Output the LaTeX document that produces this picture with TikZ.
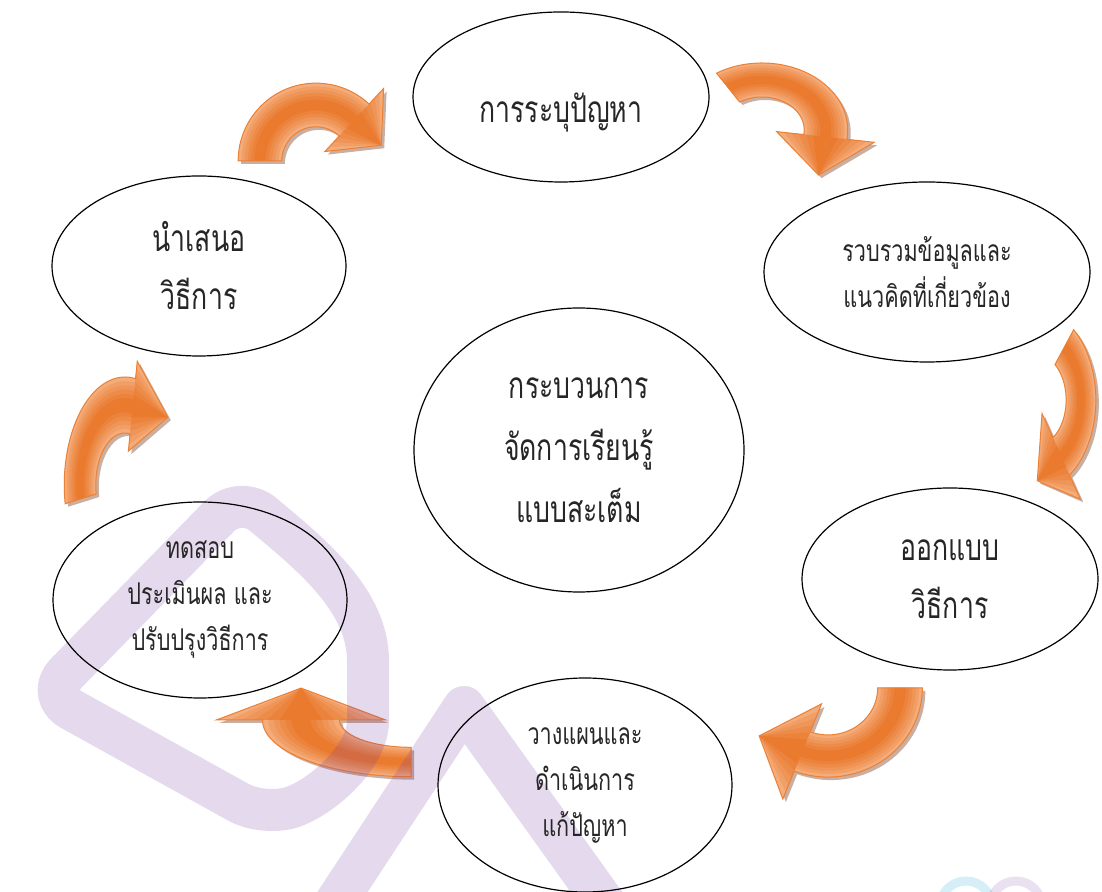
\documentclass[tikz,border=0pt]{standalone}
\usepackage{fontspec}
\newfontfamily\thaifont[Script=Thai,FakeStretch=0.72]{Loma}
\usetikzlibrary{shapes.geometric}
\definecolor{bendmain}{RGB}{234,122,46}
\definecolor{bendlight}{RGB}{244,172,122}
\definecolor{bendedge}{RGB}{236,128,52}
\definecolor{bendshade}{RGB}{120,55,20}
\definecolor{markpurple}{RGB}{112,48,160}
\definecolor{markblue}{RGB}{120,200,230}
\tikzset{
  stage/.style={draw, ellipse, line width=1.2pt, inner sep=0pt, align=center, text=black!85},
  bigtext/.style={font=\thaifont\fontsize{37}{58}\selectfont},
  smalltext/.style={font=\thaifont\fontsize{30}{46}\selectfont},
  bendedgeline/.style={draw=bendedge, line width=1pt},
  bendshadow/.style={fill=bendshade, opacity=0.4},
  logomark/.style={draw=markpurple, draw opacity=0.18, line width=42pt, line join=round}
}
% curved block arrow: centre x, centre y, x radius, y radius, from, to, band, head, tip
\newcommand{\bendarrow}[9]{%
  \path[bendshadow, shift={({#1+3},{#2-3})}, xscale=#3, yscale=#4]
    (#5:{1+#7}) arc[start angle=#5, end angle=#6, radius={1+#7}]
    -- (#6:{1+#8}) -- ({cos(#6)+#9*sin(#6)},{sin(#6)-#9*cos(#6)})
    -- (#6:{1-#8}) -- (#6:{1-#7})
    arc[start angle=#6, end angle=#5, radius={1-#7}] -- cycle;
  \foreach \f/\p in {1/0, 0.85/25, 0.7/45, 0.55/65, 0.4/82, 0.25/100}{
    \path[fill={bendmain!\p!bendlight}, shift={(#1,#2)}, xscale=#3, yscale=#4]
      (#5:{1+\f*#7}) arc[start angle=#5, end angle=#6, radius={1+\f*#7}]
      -- (#6:{1+\f*#8}) -- ({cos(#6)+#9*sin(#6)},{sin(#6)-#9*cos(#6)})
      -- (#6:{1-\f*#8}) -- (#6:{1-\f*#7})
      arc[start angle=#6, end angle=#5, radius={1-\f*#7}] -- cycle;
  }
  \path[bendedgeline, shift={(#1,#2)}, xscale=#3, yscale=#4]
    (#5:{1+#7}) arc[start angle=#5, end angle=#6, radius={1+#7}]
    -- (#6:{1+#8}) -- ({cos(#6)+#9*sin(#6)},{sin(#6)-#9*cos(#6)})
    -- (#6:{1-#8}) -- (#6:{1-#7})
    arc[start angle=#6, end angle=#5, radius={1-#7}] -- cycle;
}

\begin{document}
\begin{tikzpicture}[x=1pt, y=1pt]
\useasboundingbox (0,0) rectangle (1102,891);
\fill[white] (0,0) rectangle (1102,891);

% arrows round the cycle
\bendarrow{316}{730}{56}{56}{180}{47}{0.39}{0.77}{0.66}
\bendarrow{762}{761}{64}{50}{122}{-8}{0.34}{0.77}{0.77}
\bendarrow{1036}{491}{45}{68}{51}{-56}{0.33}{0.76}{0.64}
\bendarrow{828}{203}{72}{68}{0}{-111}{0.31}{0.75}{0.64}
\bendarrow{411}{171}{110}{42}{-90}{-180}{0.35}{0.77}{0.76}
\bendarrow{125}{406}{45}{80}{190}{80}{0.35}{0.57}{0.79}

% faint logo behind
\draw[logomark, rounded corners=30pt] (45,196) -- (240,396) to[out=-40,in=90] (368,200) to[out=-90,in=20] (265,74) -- cycle;
\draw[logomark] (330,-20) -- (464,184) -- (610,-20);
\draw[draw=markblue, draw opacity=0.3, line width=9pt] (992,-16) arc[start angle=0, end angle=180, radius=26];
\draw[draw=markpurple, draw opacity=0.15, line width=9pt] (1042,-16) arc[start angle=0, end angle=180, radius=26];

\node[stage, bigtext, minimum width=296pt, minimum height=170pt, text height=56pt, text depth=4pt] (problem) at (561,794) {การระบุปัญหา};
\node[stage, smalltext, minimum width=326pt, minimum height=180pt] (collect) at (927,619) {รวบรวมข้อมูลและ\\แนวคิดที่เกี่ยวข้อง};
\node[stage, bigtext, minimum width=296pt, minimum height=182pt] (design) at (950,312) {ออกแบบ\\วิธีการ};
\node[stage, smalltext, minimum width=294pt, minimum height=214pt] (plan) at (585,106) {วางแผนและ\\ดำเนินการ\\แก้ปัญหา};
\node[stage, smalltext, minimum width=294pt, minimum height=196pt] (test) at (200,291) {ทดสอบ\\ประเมินผล และ\\ปรับปรุงวิธีการ};
\node[stage, bigtext, minimum width=294pt, minimum height=180pt] (present) at (199,625) {นำเสนอ\\วิธีการ};
\node[stage, bigtext, font=\thaifont\fontsize{37}{62}\selectfont, minimum width=330pt, minimum height=284pt] (core) at (579,441) {กระบวนการ\\จัดการเรียนรู้\\แบบสะเต็ม};
\end{tikzpicture}
\end{document}
